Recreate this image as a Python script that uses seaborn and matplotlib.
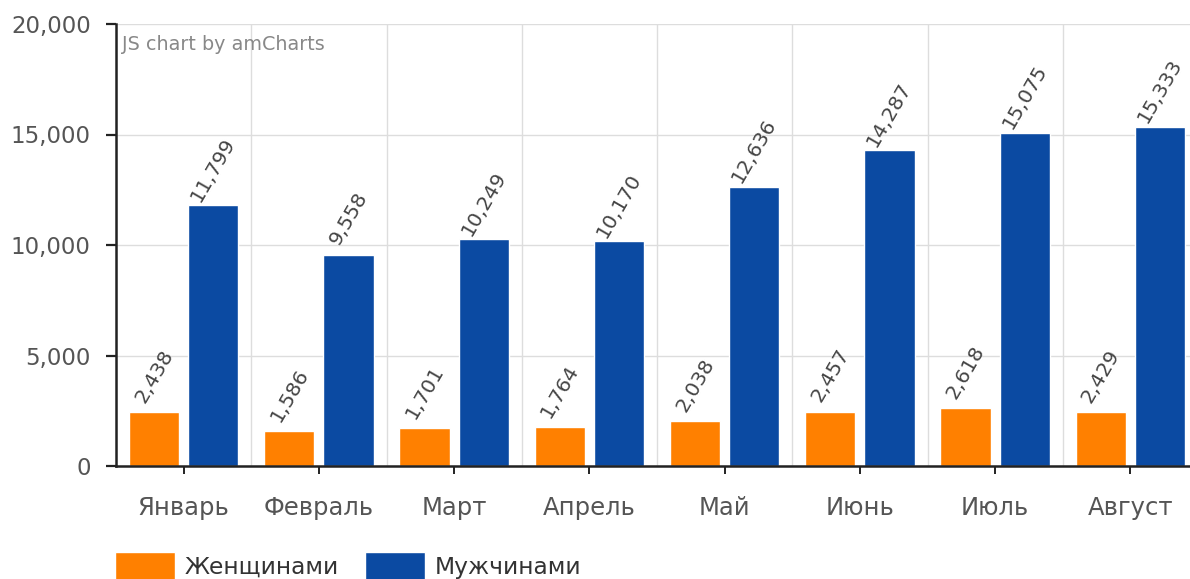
import matplotlib
matplotlib.use("Agg")
import matplotlib.pyplot as plt
import numpy as np
import pandas as pd
import seaborn as sns

# Monthly counts by group
months = ["Январь", "Февраль", "Март", "Апрель", "Май", "Июнь", "Июль", "Август"]
women = [2438, 1586, 1701, 1764, 2038, 2457, 2618, 2429]
men = [11799, 9558, 10249, 10170, 12636, 14287, 15075, 15333]
series_names = ["Женщинами", "Мужчинами"]
series_colors = ["#FF8000", "#0B4AA2"]
y_ticks = [0, 5000, 10000, 15000, 20000]

df = pd.DataFrame({
    "month": months * 2,
    "value": women + men,
    "series": [series_names[0]] * len(months) + [series_names[1]] * len(months),
})

sns.set_theme(style="white")
plt.rcParams["font.family"] = ["DejaVu Sans"]

W, H = 1190, 579
fig = plt.figure(figsize=(W / 100, H / 100), dpi=100)
ax = fig.add_axes([116 / W, 1 - 466 / H, 1082 / W, 442 / H])

sns.barplot(data=df, x="month", y="value", hue="series", hue_order=series_names,
            palette=series_colors, saturation=1, width=0.874, gap=0.15,
            ax=ax, zorder=3)

ax.set_xlim(-0.5, len(months) - 0.5)
ax.set_ylim(0, 20000)
ax.set_yticks(y_ticks)
ax.yaxis.set_major_formatter(matplotlib.ticker.FuncFormatter(lambda v, _: f"{int(v):,}"))
ax.set_xlabel("")
ax.set_ylabel("")

# grid: horizontal at value ticks, vertical between categories
ax.set_xticks(np.arange(-0.5, len(months), 1), minor=True)
ax.yaxis.grid(True, color="#dddddd", lw=1)
ax.xaxis.grid(True, which="minor", color="#dddddd", lw=1)
ax.xaxis.grid(False, which="major")
ax.set_axisbelow(True)

for side in ("top", "right"):
    ax.spines[side].set_visible(False)
for side in ("left", "bottom"):
    ax.spines[side].set_color("#222222")
    ax.spines[side].set_linewidth(1.8)
    ax.spines[side].set_zorder(4)

ax.tick_params(axis="y", which="major", left=True, length=7.2, width=1.6,
               color="#222222", pad=11, labelsize=16.5, labelcolor="#555555")
ax.tick_params(axis="x", which="major", bottom=True, length=5.8, width=1.4,
               color="#222222", pad=16, labelsize=17.5, labelcolor="#555555")
ax.tick_params(axis="x", which="minor", bottom=False, length=0)

# value labels above each bar
for container, vals in zip(ax.containers, [women, men]):
    for bar, v in zip(container, vals):
        ax.annotate(f"{v:,}", (bar.get_x() + bar.get_width() / 2, v),
                    xytext=(0, 36), textcoords="offset pixels",
                    rotation=60, rotation_mode="anchor",
                    ha="center", va="center", fontsize=14.5, color="#444444",
                    zorder=5)

fig.text(122 / W, 1 - 45 / H, "JS chart by amCharts", ha="left", va="center",
         fontsize=13.8, color="#888888")

sns.move_legend(ax, "upper left", bbox_to_anchor=(115 / W, 1 - 552 / H),
                bbox_transform=fig.transFigure, ncol=2, title=None,
                frameon=False, fontsize=16.8, handlelength=2.55, handleheight=1.45,
                handletextpad=0.42, columnspacing=1.15, borderpad=0,
                borderaxespad=0, labelcolor="#333333")

fig.savefig("out.png", dpi=100)
